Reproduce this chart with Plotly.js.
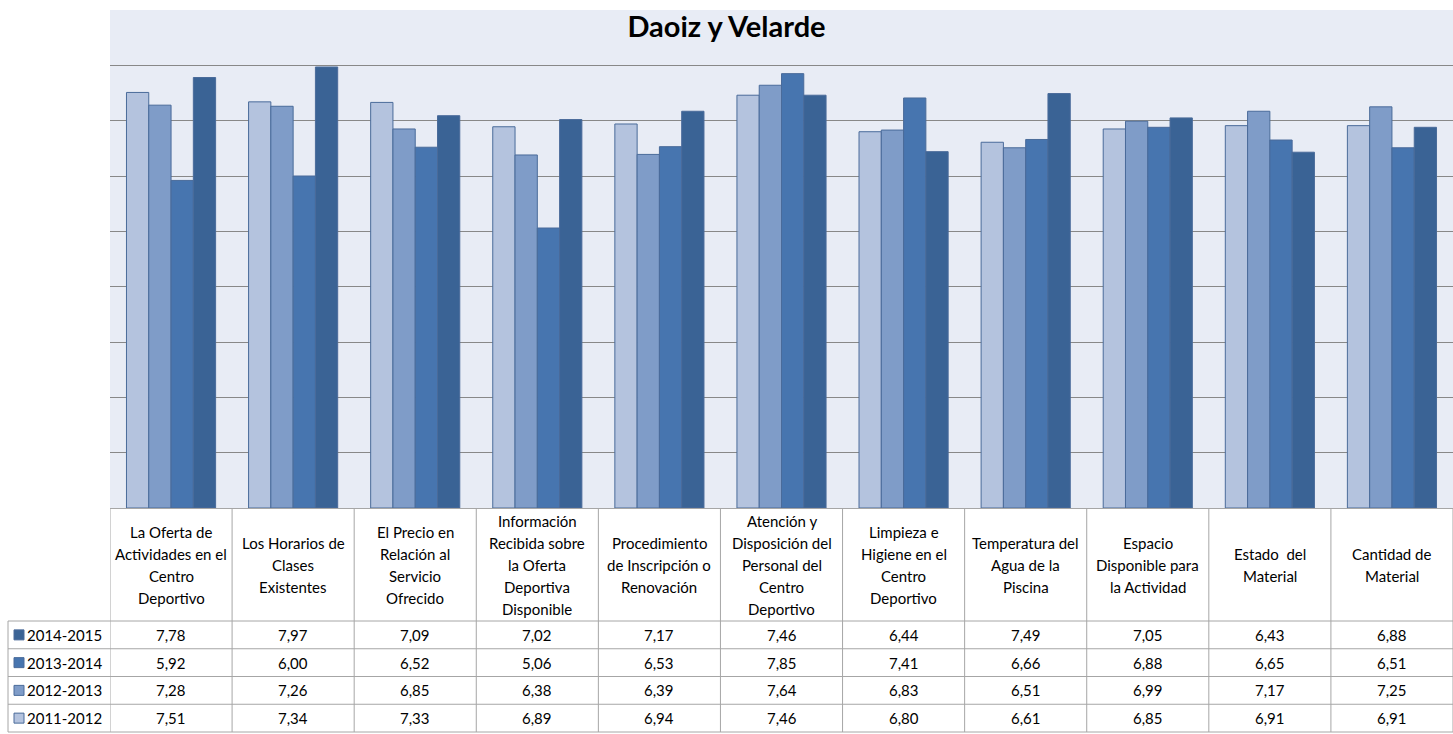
<!DOCTYPE html>
<html>
<head>
<meta charset="utf-8">
<script src="https://cdn.plot.ly/plotly-3.0.1.min.js"></script>
<style>
  html, body { margin: 0; padding: 0; background: #fff; }
  #chart { width: 1453px; height: 734px; }
</style>
</head>
<body>
<div id="chart"></div>
<script>
// category labels, one entry per line as shown in the table header
const catLines = [
    ['La Oferta de', 'Actividades en el', 'Centro', 'Deportivo'],
    ['Los Horarios de', 'Clases', 'Existentes'],
    ['El Precio en', 'Relación al', 'Servicio', 'Ofrecido'],
    ['Información', 'Recibida sobre', 'la Oferta', 'Deportiva', 'Disponible'],
    ['Procedimiento', 'de Inscripción o', 'Renovación'],
    ['Atención y', 'Disposición del', 'Personal del', 'Centro', 'Deportivo'],
    ['Limpieza e', 'Higiene en el', 'Centro', 'Deportivo'],
    ['Temperatura del', 'Agua de la', 'Piscina'],
    ['Espacio', 'Disponible para', 'la Actividad'],
    ['Estado  del', 'Material'],
    ['Cantidad de', 'Material']
];
const categories = catLines.map(l => l.join(' '));

const seriesNames = ['2011-2012', '2012-2013', '2013-2014', '2014-2015'];
const s2011 = [7.51, 7.34, 7.33, 6.89, 6.94, 7.46, 6.80, 6.61, 6.85, 6.91, 6.91];
const s2012 = [7.28, 7.26, 6.85, 6.38, 6.39, 7.64, 6.83, 6.51, 6.99, 7.17, 7.25];
const s2013 = [5.92, 6.00, 6.52, 5.06, 6.53, 7.85, 7.41, 6.66, 6.88, 6.65, 6.51];
const s2014 = [7.78, 7.97, 7.09, 7.02, 7.17, 7.46, 6.44, 7.49, 7.05, 6.43, 6.88];
const seriesValues = [s2011, s2012, s2013, s2014];

const colors = ['#b4c3de', '#7f9cc8', '#4775af', '#3a6395'];
const edge = '#4a6b9a';
const gridGray = '#888888';
const tableGray = '#a6a6a6';
const font = 'Lato, "Open Sans", sans-serif';

// page geometry (pixels)
const W = 1453, H = 734;
const plotL = 110, plotT = 10, plotB = 508;
const headerBottom = 621, rowH = 27.75, tableLeft = 8;
const plotH = plotB - plotT, plotW = W - plotL;
const py = p => (plotB - p) / plotH;   // pixel y -> paper y
const pxx = p => (p - plotL) / plotW;  // pixel x -> paper x

const traces = seriesNames.map((name, i) => ({
    type: 'bar', name: name, x: categories, y: seriesValues[i],
    marker: { color: colors[i], line: { color: edge, width: 1 } },
    hoverinfo: 'x+y+name'
}));

const shapes = [];
const annotations = [];

// vertical column lines of the data table
for (let i = 0; i <= categories.length; i++) {
    shapes.push({ type: 'line', xref: 'x', yref: 'paper', x0: i - 0.5, x1: i - 0.5,
        y0: py(plotB), y1: py(headerBottom + rowH * 4), line: { color: tableGray, width: 1 } });
}
// horizontal row lines
for (let r = 0; r <= 4; r++) {
    const yy = py(headerBottom + r * rowH);
    shapes.push({ type: 'line', xref: 'paper', yref: 'paper', x0: pxx(tableLeft), x1: 1,
        y0: yy, y1: yy, line: { color: tableGray, width: 1 } });
}
shapes.push({ type: 'line', xref: 'paper', yref: 'paper', x0: pxx(tableLeft), x1: pxx(tableLeft),
    y0: py(headerBottom), y1: py(headerBottom + rowH * 4), line: { color: tableGray, width: 1 } });

// header labels, one annotation per line
const headerMid = (plotB + headerBottom) / 2, lineGap = 22;
catLines.forEach((lines, c) => {
    lines.forEach((txt, k) => {
        const yc = headerMid + (k - (lines.length - 1) / 2) * lineGap;
        annotations.push({ xref: 'x', yref: 'paper', x: categories[c], y: py(yc),
            text: txt, showarrow: false, xanchor: 'center', yanchor: 'middle',
            font: { family: font, size: 15, color: '#000' } });
    });
});

// data rows: newest season on top
for (let r = 0; r < 4; r++) {
    const si = 3 - r;
    const yc = headerBottom + r * rowH + rowH / 2;
    shapes.push({ type: 'rect', xref: 'paper', yref: 'paper',
        x0: pxx(14), x1: pxx(24), y0: py(yc - 5), y1: py(yc + 5),
        fillcolor: colors[si], line: { color: edge, width: 1 } });
    annotations.push({ xref: 'paper', yref: 'paper', x: pxx(25), y: py(yc),
        text: seriesNames[si], showarrow: false, xanchor: 'left', yanchor: 'middle',
        font: { family: font, size: 15, color: '#000' } });
    seriesValues[si].forEach((v, c) => {
        annotations.push({ xref: 'x', yref: 'paper', x: categories[c], y: py(yc),
            text: v.toFixed(2).replace('.', ','), showarrow: false,
            xanchor: 'center', yanchor: 'middle',
            font: { family: font, size: 15, color: '#000' } });
    });
}

const layout = {
    width: W, height: H,
    margin: { l: plotL, r: 0, t: plotT, b: H - plotB, pad: 0 },
    paper_bgcolor: '#ffffff', plot_bgcolor: '#e8ecf5',
    title: { text: '<b>Daoiz y Velarde</b>', xref: 'container', x: 0.5, xanchor: 'center',
        yref: 'container', y: 1 - 27 / H, yanchor: 'middle',
        font: { family: font, size: 29, color: '#000' } },
    showlegend: false,
    barmode: 'group', bargap: 0.27, bargroupgap: 0,
    xaxis: { type: 'category', range: [-0.5, categories.length - 0.5],
        showticklabels: false, showgrid: false, zeroline: false, ticks: '', showline: false },
    yaxis: { range: [0, 9], dtick: 1, showticklabels: false, ticks: '',
        showgrid: true, gridcolor: gridGray, gridwidth: 1,
        zeroline: true, zerolinecolor: tableGray, zerolinewidth: 1, showline: false },
    shapes: shapes,
    annotations: annotations
};

Plotly.newPlot('chart', traces, layout, { displayModeBar: false, responsive: false });
</script>
</body>
</html>
